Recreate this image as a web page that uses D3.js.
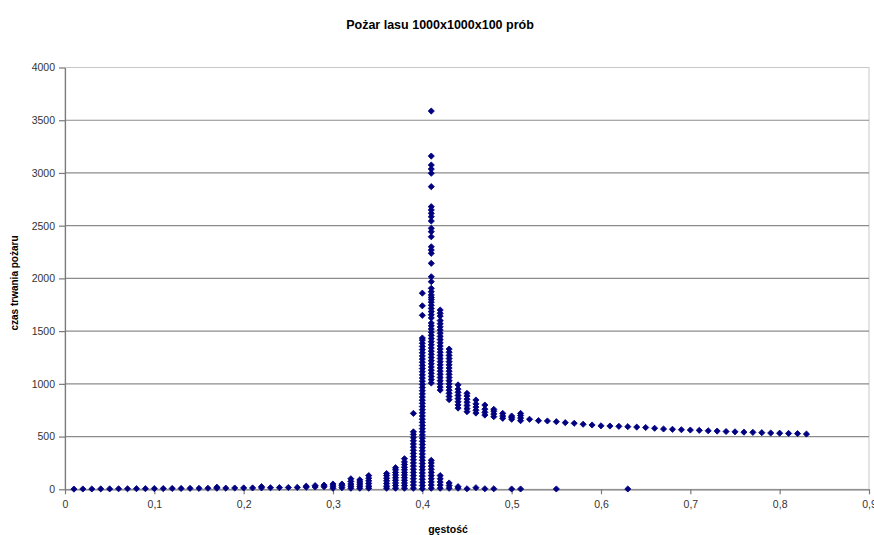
<!DOCTYPE html>
<html>
<head>
<meta charset="utf-8">
<script src="https://cdn.jsdelivr.net/npm/d3@7"></script>
<style>
  body { margin: 0; background: #fff; }
  text { font-family: "Liberation Sans", Arial, sans-serif; }
</style>
</head>
<body>
<div class="canvas"></div>
<script>
// chart texts
const title = 'Pożar lasu 1000x1000x100 prób'
const xTitle = 'gęstość'
const yTitle = 'czas trwania pożaru'

// tick values
const xTicks = [0, 0.1, 0.2, 0.3, 0.4, 0.5, 0.6, 0.7, 0.8, 0.9]
const yTicks = [0, 500, 1000, 1500, 2000, 2500, 3000, 3500, 4000]

// density of each column of runs (0.35 missing in the source)
const densities = [
    0.01, 0.02, 0.03, 0.04, 0.05, 0.06, 0.07, 0.08, 0.09, 0.10,
    0.11, 0.12, 0.13, 0.14, 0.15, 0.16, 0.17, 0.18, 0.19, 0.20,
    0.21, 0.22, 0.23, 0.24, 0.25, 0.26, 0.27, 0.28, 0.29, 0.30,
    0.31, 0.32, 0.33, 0.34, 0.36, 0.37, 0.38, 0.39, 0.40,
    0.41, 0.42, 0.43, 0.44, 0.45, 0.46, 0.47, 0.48, 0.49, 0.50,
    0.51, 0.52, 0.53, 0.54, 0.55, 0.56, 0.57, 0.58, 0.59, 0.60,
    0.61, 0.62, 0.63, 0.64, 0.65, 0.66, 0.67, 0.68, 0.69, 0.70,
    0.71, 0.72, 0.73, 0.74, 0.75, 0.76, 0.77, 0.78, 0.79, 0.80,
    0.81, 0.82, 0.83
]

// fire duration of the visible runs for each density
const durations = [
    [2], [3], [3], [4], [4], [5], [5], [6], [6], [7],
    [7], [8], [8], [9], [9], [10], [10, 20], [11], [12], [13],
    [13], [14, 25], [15], [16], [17], [18], [20, 30], [22, 35], [24, 40], [10, 30, 50],
    [15, 35, 50],
    [10, 30, 50, 75, 100],
    [10, 30, 50, 70, 90],
    [10, 30, 55, 80, 105, 130],
    [10, 30, 55, 80, 105, 130, 150],
    [10, 35, 60, 85, 110, 135, 160, 185, 205],
    [10, 35, 60, 85, 110, 135, 160, 185, 210, 235, 260, 290],
    [10, 40, 70, 100, 130, 160, 190, 220, 250, 280, 310, 340, 370, 400, 430, 460, 490, 520, 545, 720],
    [5, 35, 65, 95, 125, 155, 185, 215, 245, 275, 305, 335, 365, 395, 425, 455, 485, 515, 545, 575,
     605, 635, 665, 695, 725, 755, 785, 815, 845, 875, 905, 935, 965, 995, 1025, 1055, 1085, 1115,
     1145, 1175, 1205, 1235, 1265, 1295, 1325, 1355, 1385, 1415, 1435, 1650, 1740, 1860],
    [10, 40, 70, 100, 130, 160, 190, 220, 250, 275,
     1008, 1040, 1070, 1100, 1130, 1160, 1190, 1220, 1250, 1280, 1310, 1340, 1370, 1400, 1430, 1460,
     1490, 1520, 1550, 1577, 1625, 1655, 1685, 1715, 1745, 1775, 1800, 1820, 1843, 1874, 1906, 1969,
     2016, 2143, 2238, 2269, 2300, 2395, 2443, 2475, 2544, 2585, 2617, 2649, 2680, 2870, 2997, 3037,
     3075, 3160, 3587],
    [10, 40, 70, 100, 130,
     941, 970, 1000, 1030, 1060, 1090, 1120, 1150, 1180, 1210, 1240, 1270, 1300, 1330, 1360, 1390,
     1420, 1450, 1480, 1510, 1540, 1570, 1600, 1643, 1670, 1700],
    [10, 35, 60, 850, 880, 910, 940, 970, 1000, 1030, 1060, 1090, 1120, 1150, 1180, 1210, 1240, 1270, 1300, 1330],
    [10, 25, 770, 800, 830, 860, 890, 920, 950, 990],
    [5, 736, 765, 795, 825, 855, 885, 910],
    [15, 723, 750, 780, 810, 847],
    [5, 704, 730, 760, 799],
    [5, 689, 715, 740, 758],
    [673, 695, 720],
    [3, 664, 680, 695],
    [3, 651, 675, 700, 720],
    [664], [651], [648], [3, 641], [632], [626], [617], [610], [602],
    [600], [597], [3, 594], [590], [586], [579], [572], [569], [565], [562],
    [559], [555], [552], [548], [545], [542], [540], [537], [534], [532],
    [530], [528], [524]
]

// graph dimensions
const dims = { width: 874, height: 535 }
const plot = { left: 65, right: 869, top: 67.5, bottom: 489.3 }

const svg = d3.select('.canvas')
    .append('svg')
    .attr('width', dims.width)
    .attr('height', dims.height)

// scales
const x = d3.scaleLinear().domain([0, 0.9]).range([plot.left, plot.right])
const y = d3.scaleLinear().domain([0, 4000]).range([plot.bottom, plot.top])

// plot frame (light border top / right)
svg.append('rect')
    .attr('x', plot.left)
    .attr('y', plot.top)
    .attr('width', plot.right - plot.left)
    .attr('height', plot.bottom - plot.top)
    .attr('fill', '#fff')
    .attr('stroke', '#c8c8c8')
    .attr('stroke-width', 1)

// gridlines
svg.append('g')
    .selectAll('line')
    .data(yTicks.filter(t => t > 0 && t < 4000))
    .enter()
    .append('line')
    .attr('x1', plot.left)
    .attr('x2', plot.right)
    .attr('y1', d => y(d))
    .attr('y2', d => y(d))
    .attr('stroke', '#8c8c8c')
    .attr('stroke-width', 1.2)

// axes
const fmtX = d => d === 0 ? '0' : d3.format('.1f')(d).replace('.', ',')
const fmtY = d3.format('d')

const xAxis = svg.append('g')
    .attr('transform', `translate(0, ${plot.bottom})`)
    .call(d3.axisBottom(x).tickValues(xTicks).tickFormat(fmtX).tickSize(5).tickSizeOuter(0).tickPadding(6))

const yAxis = svg.append('g')
    .attr('transform', `translate(${plot.left}, 0)`)
    .call(d3.axisLeft(y).tickValues(yTicks).tickFormat(fmtY).tickSize(6).tickSizeOuter(0).tickPadding(4))

svg.selectAll('.domain, .tick line')
    .attr('stroke', '#7a7a7a')
    .attr('stroke-width', 1.2)

svg.selectAll('.tick text')
    .attr('fill', '#333')
    .style('font-size', '10.5px')
    .style('font-family', '"Liberation Sans", Arial, sans-serif')

// points
const points = densities.flatMap((d, i) => durations[i].map(v => ({ density: d, duration: v })))

const marker = d3.symbol().type(d3.symbolSquare).size(19)

svg.append('g')
    .selectAll('path')
    .data(points)
    .enter()
    .append('path')
    .attr('d', marker)
    .attr('transform', d => `translate(${x(d.density)}, ${y(d.duration)}) rotate(45)`)
    .attr('fill', '#000080')
    .attr('stroke', '#000080')
    .attr('stroke-width', 0.8)

// titles
svg.append('text')
    .attr('x', 440)
    .attr('y', 29)
    .attr('text-anchor', 'middle')
    .style('font-size', '12.5px')
    .style('font-weight', 'bold')
    .text(title)

svg.append('text')
    .attr('x', 448)
    .attr('y', 533)
    .attr('text-anchor', 'middle')
    .style('font-size', '10.5px')
    .style('font-weight', 'bold')
    .text(xTitle)

svg.append('text')
    .attr('transform', 'translate(18, 283) rotate(-90)')
    .attr('text-anchor', 'middle')
    .style('font-size', '10px')
    .style('font-weight', 'bold')
    .text(yTitle)
</script>
</body>
</html>
